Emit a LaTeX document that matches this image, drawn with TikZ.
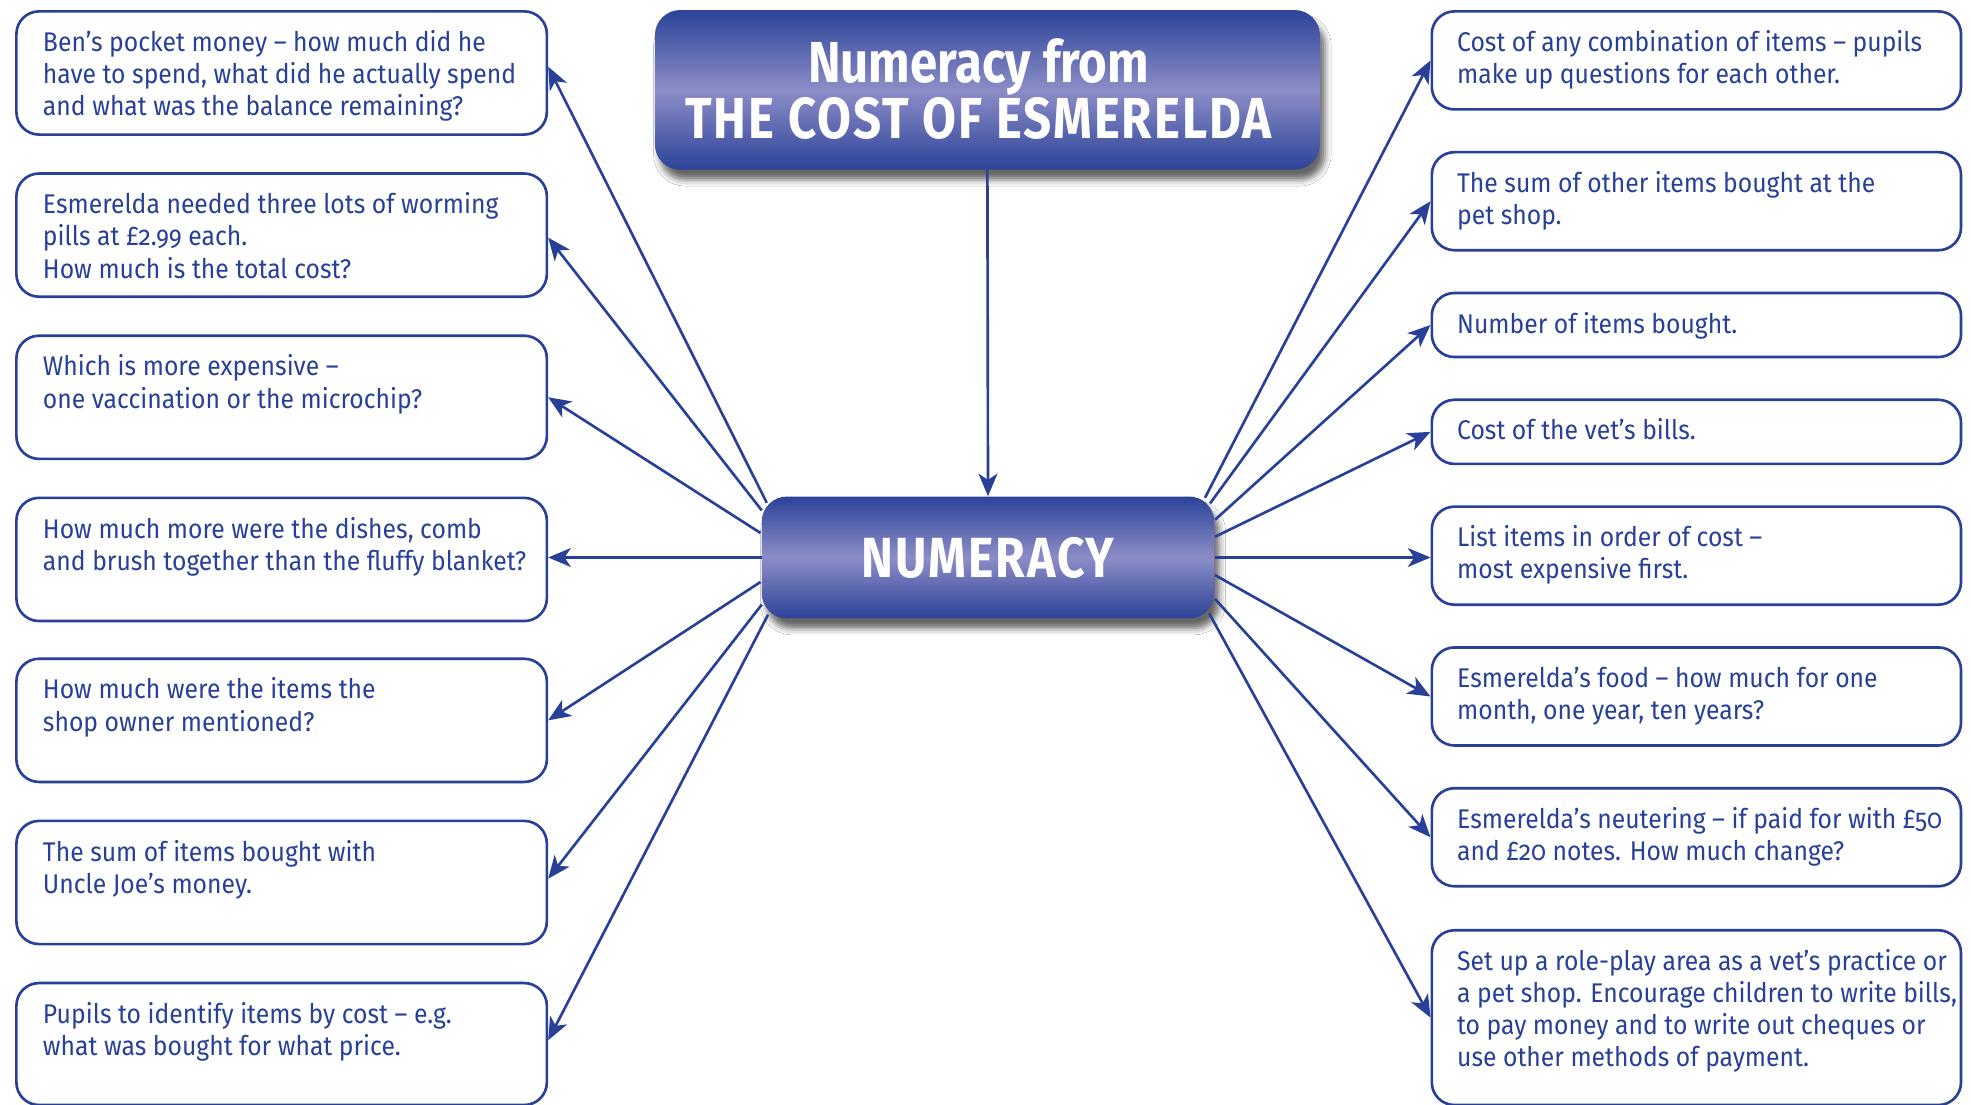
\documentclass[tikz,border=0pt]{standalone}
\usepackage{fontspec}
\setmainfont{Fira Sans}[Numbers=OldStyle]
\newfontfamily\bodyfamily{Fira Sans}[Numbers=OldStyle, RawFeature=+onum, FakeStretch=0.915]
\newfontfamily\headfamily{Fira Sans}[FakeStretch=0.85]
\newfontfamily\capsfamily{Fira Sans}[FakeStretch=0.85, LetterSpace=3.5]
\usetikzlibrary{arrows.meta, shadows.blur, calc}

\definecolor{ink}{HTML}{284098}
\definecolor{hubdark}{HTML}{2C4398}
\definecolor{hublight}{HTML}{8C8DC7}

\newcommand\qpar[1]{\parbox[t]{410pt}{\raggedright #1}}

\tikzset{
  qbox/.style={draw=ink, line width=2.1pt, rounded corners=18pt, anchor=north west,
    inner sep=0pt, fill=white},
  qtext/.style={anchor=base west, inner sep=0pt, text=ink,
    font=\bodyfamily\fontsize{21.5}{25.6}\selectfont},
  hub/.style={rounded corners=20pt, top color=hubdark, bottom color=hubdark,
    middle color=hublight, text=white, align=center, inner sep=0pt,
    blur shadow={shadow xshift=4pt, shadow yshift=-8pt, shadow blur radius=5pt,
      shadow opacity=60}},
  link/.style={draw=ink, line width=2.1pt,
    -{Stealth[length=18pt, width=15pt, inset=5pt]}}
}

\begin{document}
\begin{tikzpicture}[x=1pt, y=-1pt]
\fill[white] (0,0) rectangle (1568,879);
\useasboundingbox (0,0) rectangle (1568,879);

% central headings
\node[hub, minimum width=529, minimum height=127,
  font={\bfseries\fontsize{46}{42}\selectfont}] (T) at (785.5,71.5)
  {\raisebox{2pt}{\headfamily\bfseries Numeracy from}\hspace*{14pt}\\\raisebox{2pt}{\capsfamily\bfseries THE COST OF ESMERELDA}\hspace*{14pt}};
\node[hub, minimum width=360, minimum height=97,
  font={\capsfamily\bfseries\fontsize{45}{45}\selectfont}] (N) at (786,443.5)
  {NUMERACY};

% left column of questions
\node[qbox, minimum width=422, minimum height=98] (L1) at (12,8) {};
\node[qbox, minimum width=422, minimum height=98] (L2) at (12,137) {};
\node[qbox, minimum width=422, minimum height=98] (L3) at (12,266) {};
\node[qbox, minimum width=422, minimum height=98] (L4) at (12,395) {};
\node[qbox, minimum width=422, minimum height=98] (L5) at (12,523) {};
\node[qbox, minimum width=422, minimum height=98] (L6) at (12,652) {};
\node[qbox, minimum width=422, minimum height=97] (L7) at (12,781) {};

\node[qtext] (L1t) at ($(L1.north west)+(22,33)$) {\qpar{Ben’s pocket money – how much did he\\have to spend, what did he actually spend\\and what was the balance remaining?}};
\node[qtext] (L2t) at ($(L2.north west)+(22,33)$) {\qpar{Esmerelda needed three lots of worming\\pills at £2.99 each.\\How much is the total cost?}};
\node[qtext] (L3t) at ($(L3.north west)+(22,33)$) {\qpar{Which is more expensive –\\one vaccination or the microchip?}};
\node[qtext] (L4t) at ($(L4.north west)+(22,33)$) {\qpar{How much more were the dishes, comb\\and brush together than the fluffy blanket?}};
\node[qtext] (L5t) at ($(L5.north west)+(22,33)$) {\qpar{How much were the items the\\shop owner mentioned?}};
\node[qtext] (L6t) at ($(L6.north west)+(22,33)$) {\qpar{The sum of items bought with\\Uncle Joe’s money.}};
\node[qtext] (L7t) at ($(L7.north west)+(22,33)$) {\qpar{Pupils to identify items by cost – e.g.\\what was bought for what price.}};

% right column of activities
\node[qbox, minimum width=421, minimum height=78] (R1) at (1138,8) {};
\node[qbox, minimum width=421, minimum height=78] (R2) at (1138,120) {};
\node[qbox, minimum width=421, minimum height=51] (R3) at (1138,232) {};
\node[qbox, minimum width=421, minimum height=51] (R4) at (1138,317) {};
\node[qbox, minimum width=421, minimum height=78] (R5) at (1138,402) {};
\node[qbox, minimum width=421, minimum height=78] (R6) at (1138,514) {};
\node[qbox, minimum width=421, minimum height=78] (R7) at (1138,626) {};
\node[qbox, minimum width=421, minimum height=139] (R8) at (1138,739) {};

\node[qtext] (R1t) at ($(R1.north west)+(21,33)$) {\qpar{Cost of any combination of items – pupils\\make up questions for each other.}};
\node[qtext] (R2t) at ($(R2.north west)+(21,33)$) {\qpar{The sum of other items bought at the\\pet shop.}};
\node[qtext] (R3t) at ($(R3.north west)+(21,33)$) {\qpar{Number of items bought.}};
\node[qtext] (R4t) at ($(R4.north west)+(21,33)$) {\qpar{Cost of the vet’s bills.}};
\node[qtext] (R5t) at ($(R5.north west)+(21,33)$) {\qpar{List items in order of cost –\\most expensive first.}};
\node[qtext] (R6t) at ($(R6.north west)+(21,33)$) {\qpar{Esmerelda’s food – how much for one\\month, one year, ten years?}};
\node[qtext] (R7t) at ($(R7.north west)+(21,33)$) {\qpar{Esmerelda’s neutering – if paid for with £50\\and £20 notes. How much change?}};
\node[qtext] (R8t) at ($(R8.north west)+(21,33)$) {\qpar{Set up a role-play area as a vet’s practice or\\a pet shop. Encourage children to write bills,\\to pay money and to write out cheques or\\use other methods of payment.}};

% connectors
\draw[link] (T.south) -- (N.north);

\draw[link] ($(N.center)+(-176,-43.5)$) -- ($(L1.east)+(0,-5)$);
\draw[link] ($(N.center)+(-180,-37.5)$) -- ($(L2.east)+(0,2)$);
\draw[link] ($(N.center)+(-181,-19.5)$) -- (L3.east);
\draw[link] (N.west) -- (N.west -| L4.east);
\draw[link] ($(N.center)+(-181,19.5)$) -- (L5.east);
\draw[link] ($(N.center)+(-180,37.5)$) -- ($(L6.east)+(0,-3)$);
\draw[link] ($(N.center)+(-175,45.5)$) -- ($(L7.east)+(0,-3)$);

\draw[link] ($(N.center)+(172.6,-47.5)$) -- (R1.west);
\draw[link] ($(N.center)+(176.6,-43)$) -- (R2.west);
\draw[link] ($(N.center)+(180.6,-30)$) -- (R3.west);
\draw[link] ($(N.center)+(180.6,-16.5)$) -- (R4.west);
\draw[link] (N.east) -- (N.east -| R5.west);
\draw[link] ($(N.center)+(180.6,14)$) -- (R6.west);
\draw[link] ($(N.center)+(180.6,33)$) -- (R7.west);
\draw[link] ($(N.center)+(176,44.5)$) -- (R8.west);
\end{tikzpicture}
\end{document}
